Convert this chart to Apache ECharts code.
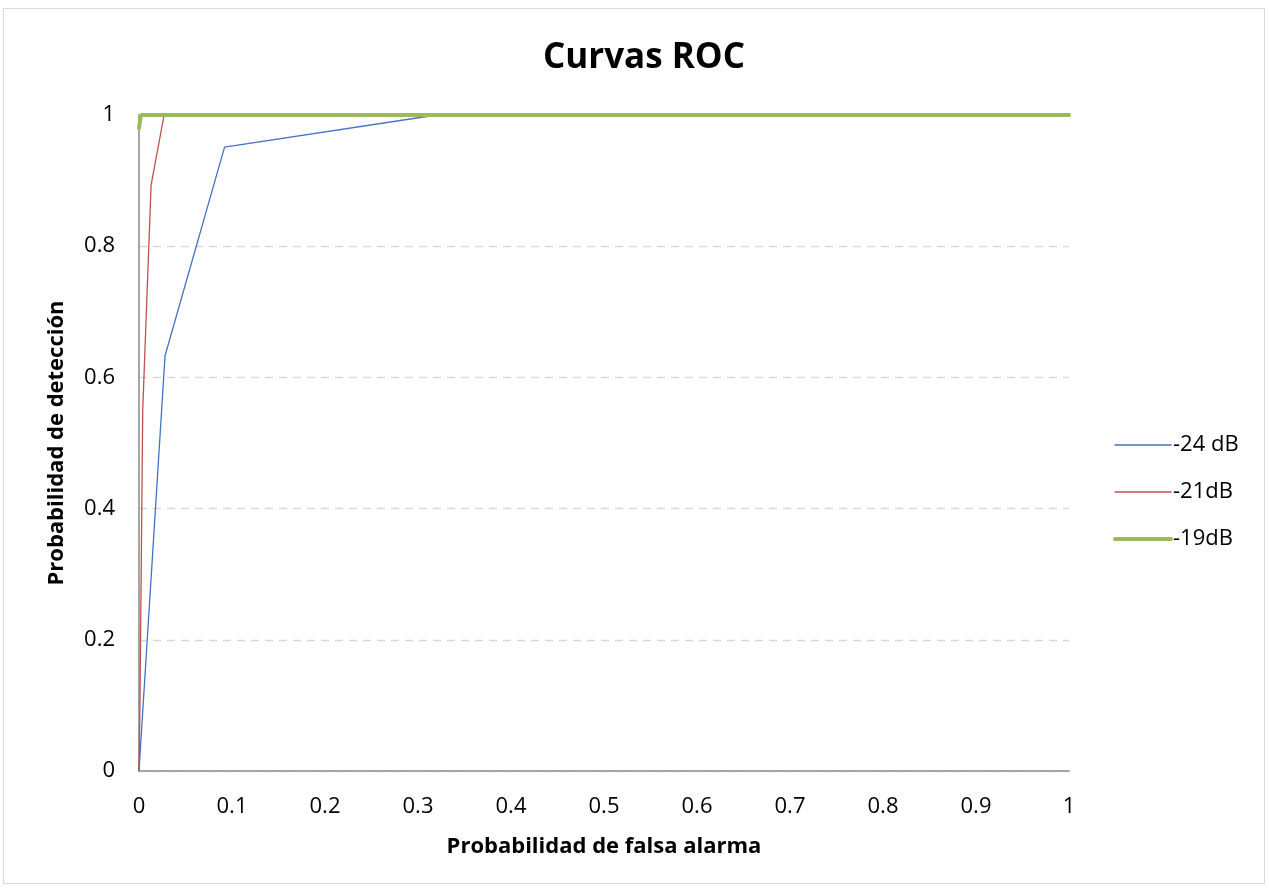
<!DOCTYPE html>
<html>
<head>
<meta charset="utf-8">
<script src="https://cdn.jsdelivr.net/npm/echarts@6/dist/echarts.min.js"></script>
<style>
  html, body { margin: 0; padding: 0; background: #ffffff; }
  #frame { position: absolute; left: 3px; top: 8px; width: 1262px; height: 876px; border: 1px solid #d9d9d9; box-sizing: border-box; }
  #chart { position: absolute; left: 0; top: 0; width: 1269px; height: 890px; }
</style>
</head>
<body>
<div id="frame"></div>
<div id="chart"></div>
<script>
// ROC curves: [probabilidad de falsa alarma, probabilidad de detección]
const seriesNames = ['-24 dB', '-21dB', '-19dB'];
const roc24 = [[0, 0], [0.028, 0.633], [0.092, 0.951], [0.32, 1], [1, 1]];
const roc21 = [[0, 0], [0.001, 0.1], [0.004, 0.55], [0.013, 0.893], [0.027, 1], [1, 1]];
const roc19 = [[0, 0.98], [0.002, 1], [1, 1]];
const xTicks = [0, 0.1, 0.2, 0.3, 0.4, 0.5, 0.6, 0.7, 0.8, 0.9, 1];
const yTicks = [0, 0.2, 0.4, 0.6, 0.8, 1];

const colors = ['#4472c4', '#c0504d', '#9bbb59'];
const widths = [1.3, 1.3, 4];

const font = 'Open Sans, Liberation Sans, sans-serif';
const chart = echarts.init(document.getElementById('chart'));

chart.setOption({
  animation: false,
  title: {
    text: 'Curvas ROC',
    left: 538,
    top: 36,
    textStyle: { fontFamily: font, fontSize: 35, fontWeight: 'bold', color: '#000' }
  },
  grid: { left: 139, right: 200, top: 115, bottom: 119 },
  legend: {
    orient: 'vertical',
    left: 1108,
    top: 429,
    itemWidth: 56,
    itemHeight: 14,
    itemGap: 25,
    itemStyle: { opacity: 0 },
    textStyle: { fontFamily: font, fontSize: 22, color: '#000', padding: [0, 0, 0, -3] },
    data: seriesNames.map((n, i) => ({
      name: n,
      lineStyle: { color: colors[i], width: widths[i], cap: 'round' }
    }))
  },
  xAxis: {
    type: 'value',
    min: 0, max: 1, interval: 0.1,
    name: 'Probabilidad de falsa alarma',
    nameLocation: 'middle',
    nameGap: 65,
    nameTextStyle: { fontFamily: font, fontSize: 22, fontWeight: 'bold', color: '#000' },
    axisLine: { show: true, lineStyle: { color: '#a6a6a6', width: 2 } },
    axisTick: { show: false },
    splitLine: { show: false },
    axisLabel: {
      margin: 25, fontFamily: font, fontSize: 22, color: '#000',
      formatter: v => xTicks.some(t => Math.abs(t - v) < 1e-9) ? String(+v.toFixed(1)) : ''
    }
  },
  yAxis: {
    type: 'value',
    min: 0, max: 1, interval: 0.2,
    name: 'Probabilidad de detección',
    nameLocation: 'middle',
    nameGap: 71,
    nameTextStyle: { fontFamily: font, fontSize: 22, fontWeight: 'bold', color: '#000' },
    axisLine: { show: true, lineStyle: { color: '#a6a6a6', width: 2 } },
    axisTick: { show: false },
    splitLine: { show: true, lineStyle: { color: '#d9d9d9', type: [8, 6], width: 1.3 } },
    axisLabel: {
      margin: 24, fontFamily: font, fontSize: 22, color: '#000',
      formatter: v => yTicks.some(t => Math.abs(t - v) < 1e-9) ? String(+v.toFixed(1)) : ''
    }
  },
  series: [
    {
      name: seriesNames[0], type: 'line', data: roc24, symbol: 'none',
      lineStyle: { color: colors[0], width: widths[0] }, itemStyle: { color: colors[0] }, z: 3
    },
    {
      name: seriesNames[1], type: 'line', data: roc21, symbol: 'none',
      lineStyle: { color: colors[1], width: widths[1] }, itemStyle: { color: colors[1] }, z: 4
    },
    {
      name: seriesNames[2], type: 'line', data: roc19, symbol: 'none',
      lineStyle: { color: colors[2], width: widths[2], cap: 'round' }, itemStyle: { color: colors[2] }, z: 5
    }
  ]
});
</script>
</body>
</html>
